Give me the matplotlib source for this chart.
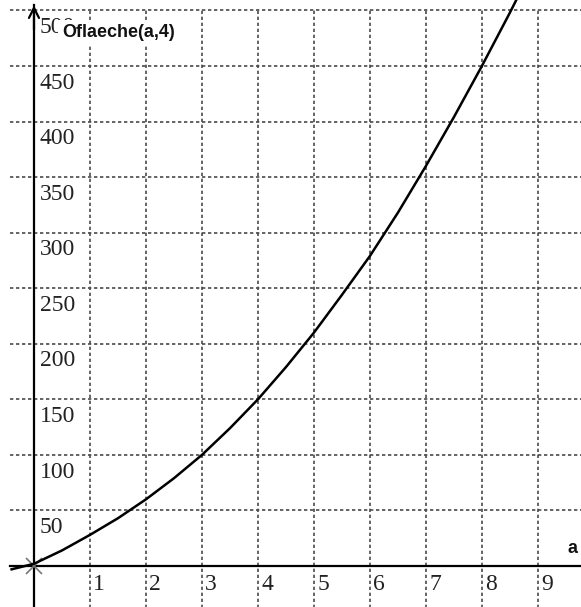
import matplotlib
matplotlib.use("Agg")
import matplotlib.pyplot as plt

a_vals = [-0.4, 0, 0.5, 1, 1.5, 2, 2.5, 3, 3.5, 4, 4.5, 5, 5.5, 6, 6.5, 7, 7.5, 8, 8.5, 8.7]
o_vals = [-3, 2, 14, 28, 43, 60, 79, 100, 124, 150, 179, 210, 244, 279, 318, 360, 404, 450, 498, 518]
x_ticks = [1, 2, 3, 4, 5, 6, 7, 8, 9]
y_ticks = [50, 100, 150, 200, 250, 300, 350, 400, 450, 500]
y_label = "Oflaeche(a,4)"
x_label = "a"

fig = plt.figure(figsize=(5.81, 6.07), dpi=100)
ax = fig.add_axes([0, 0, 1, 1])
ax.set_xlim(-0.607, 9.77)
ax.set_ylim(-36.9, 509.4)
ax.axis("off")

grid_kw = dict(color="#4a4a4a", lw=1.2, ls=(0, (2, 1.6)), zorder=1)
for xv in x_ticks:
    ax.plot([xv, xv], [-40, 500], **grid_kw)
for yv in y_ticks:
    ax.plot([-0.43, 9.8], [yv, yv], **grid_kw)

# axes
ax.plot([-0.43, 9.8], [0, 0], color="black", lw=1.6, zorder=3)
ax.plot([0, 0], [-40, 505], color="black", lw=1.6, zorder=3)
ax.annotate("", xy=(0, 507), xytext=(0, 480),
            arrowprops=dict(arrowstyle="->", color="black", lw=1.6,
                            mutation_scale=18), zorder=4)
ax.plot([0], [0], marker="x", color="#777777", ms=12, mew=1.2, zorder=3)

# curve
ax.plot(a_vals, o_vals, color="black", lw=1.8, zorder=5)

serif = ["Liberation Serif", "DejaVu Serif"]
for yv in y_ticks:
    ax.text(0.1, yv - 15.5, str(yv), fontsize=17, family=serif,
            ha="left", va="center", color="#222222", zorder=4)
for xv in x_ticks:
    ax.text(xv + 0.06, -17, str(xv), fontsize=17, family=serif,
            ha="left", va="center", color="#222222", zorder=4)

ax.text(0.5, 480, y_label, fontsize=13, family=["Liberation Sans"],
        fontweight="bold", ha="left", va="center", color="#111111",
        bbox=dict(facecolor="white", edgecolor="none", pad=3), zorder=6)
ax.text(9.53, 16, x_label, fontsize=13, family=["Liberation Sans"],
        fontweight="bold", ha="left", va="center", color="#111111", zorder=6)

fig.savefig("out.png", dpi=100, facecolor="white")
